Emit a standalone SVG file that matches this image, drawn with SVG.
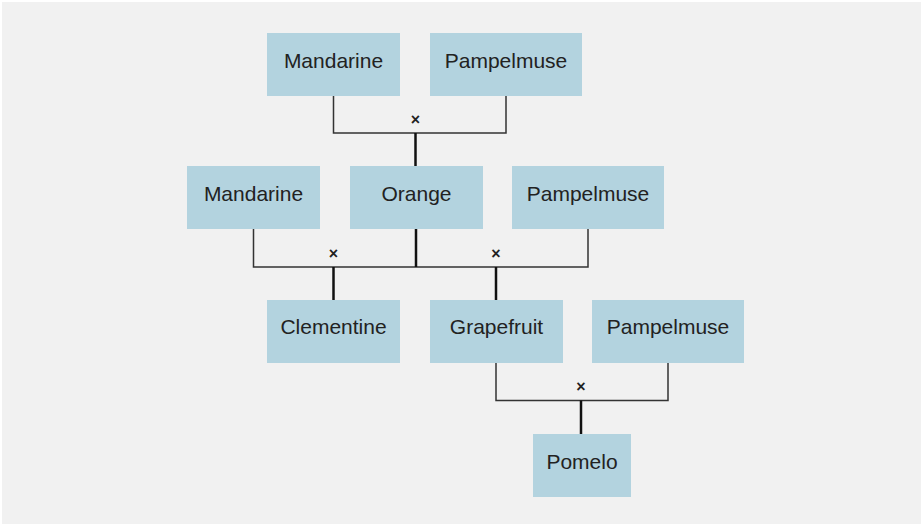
<svg xmlns="http://www.w3.org/2000/svg" width="922" height="526" viewBox="0 0 922 526">
<style>
.box{fill:#b3d3df}
.lbl{font-family:"Liberation Sans",Arial,sans-serif;font-size:21px;fill:#222;text-anchor:middle}
.x{font-family:"Liberation Sans",Arial,sans-serif;font-size:16px;font-weight:bold;fill:#222;text-anchor:middle}
.ln{fill:none;stroke:#333;stroke-width:1.5}
.dn{fill:none;stroke:#111;stroke-width:2.5}
</style>
<rect x="0" y="0" width="922" height="526" fill="#ffffff"/>
<rect x="2" y="2" width="919" height="522" fill="#f1f1f1"/>
<g id="connectors">
<path class="ln" d="M333.5 96V133H506V96"/>
<path class="dn" d="M415.5 133V166"/>
<path class="ln" d="M253.5 229V267H588V229"/>
<path class="dn" d="M416 229V267"/>
<path class="dn" d="M333.5 267V300"/>
<path class="dn" d="M496 267V300"/>
<path class="ln" d="M496 363V400.5H668V363"/>
<path class="dn" d="M581 400.5V434"/>
<text class="x" x="415.5" y="125">×</text>
<text class="x" x="333.5" y="259">×</text>
<text class="x" x="496" y="259">×</text>
<text class="x" x="581" y="392">×</text>
</g>
<g id="n1"><rect class="box" x="267" y="33" width="133" height="63"/><text class="lbl" x="333.5" y="68">Mandarine</text></g>
<g id="n2"><rect class="box" x="430" y="33" width="152" height="63"/><text class="lbl" x="506" y="68">Pampelmuse</text></g>
<g id="n3"><rect class="box" x="187" y="166" width="133" height="63"/><text class="lbl" x="253.5" y="201">Mandarine</text></g>
<g id="n4"><rect class="box" x="350" y="166" width="133" height="63"/><text class="lbl" x="416.5" y="201">Orange</text></g>
<g id="n5"><rect class="box" x="512" y="166" width="152" height="63"/><text class="lbl" x="588" y="201">Pampelmuse</text></g>
<g id="n6"><rect class="box" x="267" y="300" width="133" height="63"/><text class="lbl" x="333.5" y="334">Clementine</text></g>
<g id="n7"><rect class="box" x="430" y="300" width="133" height="63"/><text class="lbl" x="496.5" y="334">Grapefruit</text></g>
<g id="n8"><rect class="box" x="592" y="300" width="152" height="63"/><text class="lbl" x="668" y="334">Pampelmuse</text></g>
<g id="n9"><rect class="box" x="533" y="434" width="98" height="63"/><text class="lbl" x="582" y="469">Pomelo</text></g>
</svg>
